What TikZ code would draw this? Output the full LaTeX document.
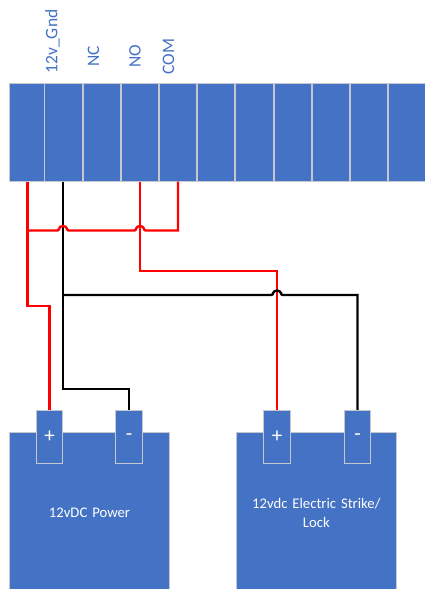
\documentclass[tikz,border=0pt]{standalone}
\usepackage{fontspec}
\setmainfont{Carlito}
\usetikzlibrary{positioning}
\definecolor{boxblue}{HTML}{4472C4}
\definecolor{boxedge}{HTML}{C4C8CE}
\newcommand{\hop}[2]{-- (#1-5.5,#2) .. controls (#1-3.5,#2) and (#1-4.5,#2-4.5) .. (#1,#2-4.5) .. controls (#1+4.5,#2-4.5) and (#1+3.5,#2) .. (#1+5.5,#2)}
\begin{document}
\begin{tikzpicture}[x=1pt, y=-1pt,
    cell/.style = {draw=boxedge, fill=boxblue, line width=1pt, inner sep=0pt, minimum width=37.2pt, minimum height=98pt},
    unit/.style = {draw=boxedge, fill=boxblue, line width=1pt, inner sep=0pt, minimum width=160pt, minimum height=160pt, text=white, font=\fontsize{14.7}{19}\selectfont, align=center, text width=150pt},
    lug/.style = {draw=boxedge, fill=boxblue, line width=1pt, inner sep=0pt, minimum width=26.5pt, minimum height=53.5pt, text=white, font=\fontsize{21}{21}\selectfont},
    pinname/.style = {rotate=90, text=boxblue, inner sep=0pt, font=\fontsize{17.5}{19}\selectfont},
    redwire/.style = {draw=red, line width=2.4pt, line join=miter},
    blackwire/.style = {draw=black, line width=2.4pt, line join=miter}]
  \useasboundingbox (0,0) rectangle (424,589);
  % terminal strip
  \node[cell, minimum width=35pt] (c1) at (27,132.5) {};
  \node[cell, minimum width=37.5pt] (c2) [right=-1pt of c1] {};
  \node[cell] (c3) [right=0pt of c2] {};
  \node[cell] (c4) [right=0pt of c3] {};
  \node[cell] (c5) [right=0pt of c4] {};
  \node[cell] (c6) [right=0pt of c5] {};
  \node[cell] (c7) [right=0pt of c6] {};
  \node[cell] (c8) [right=0pt of c7] {};
  \node[cell] (c9) [right=0pt of c8] {};
  \node[cell] (c10) [right=0pt of c9] {};
  \node[cell] (c11) [right=0pt of c10] {};
  % pin names
  \node[pinname] (gnd) at (52.5,41.5) {12v\_Gnd};
  \node[pinname] (nc) at (93.5,56) {NC};
  \node[pinname] (no) at (135,56) {NO};
  \node[pinname] (com) at (168.5,56.5) {COM};
  % power supply and strike
  \node[unit] (psu) at (89.5,512.5) {12vDC Power};
  \node[unit] (lock) at (316.3,512.5) {12vdc Electric Strike/\\Lock};
  \node[lug] (psuplus) at (49.5,437) {+};
  \node[lug] (psuminus) at (129,437) {-};
  \node[lug] (lockplus) at (277,437) {+};
  \node[lug] (lockminus) at (357.5,437) {-};
  % wires
  \coordinate (a1) at (27.5,181.5);
  \coordinate (a2) at (63,181.5);
  \coordinate (a4) at (140,181.5);
  \coordinate (a5) at (178,181.5);
  \draw[blackwire] (a2) |- (psuminus.north |- 0,389) -- (psuminus.north);
  \draw[redwire] (a1) |- (psuplus.north |- 0,306) -- (psuplus.north);
  \draw[redwire] (a1 |- 0,230.5) \hop{63}{230.5} \hop{140}{230.5} -- (a5 |- 0,230.5) -- (a5);
  \draw[redwire] (a4) |- (lockplus.north |- 0,271) -- (lockplus.north);
  \draw[blackwire] (a2 |- 0,295) \hop{277}{295} -- (lockminus.north |- 0,295) -- (lockminus.north);
\end{tikzpicture}
\end{document}
